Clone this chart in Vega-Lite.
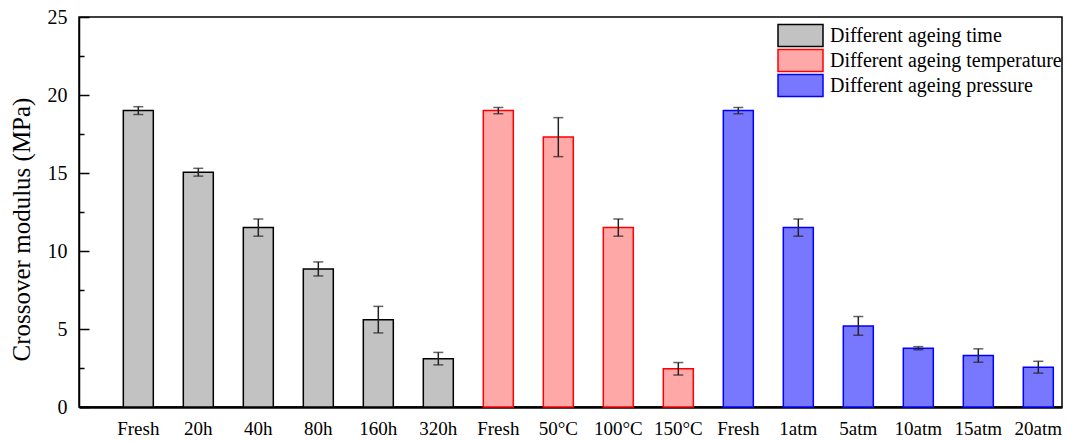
{
  "$schema": "https://vega.github.io/schema/vega-lite/v6.json",
  "width": 983,
  "height": 390,
  "autosize": {"type": "none"},
  "padding": {"left": 79, "top": 17, "right": 5, "bottom": 34},
  "config": {
    "font": "Liberation Serif",
    "view": {"stroke": "black", "strokeWidth": 1.5},
    "axis": {"labelFont": "Liberation Serif", "titleFont": "Liberation Serif"},
    "legend": {"labelFont": "Liberation Serif"}
  },
  "data": {
    "values": [
      {"key": "Fresh|1", "group": "Different ageing time", "value": 19.0, "lo": 18.75, "hi": 19.25},
      {"key": "20h|2", "group": "Different ageing time", "value": 15.05, "lo": 14.8, "hi": 15.3},
      {"key": "40h|3", "group": "Different ageing time", "value": 11.5, "lo": 10.95, "hi": 12.05},
      {"key": "80h|4", "group": "Different ageing time", "value": 8.85, "lo": 8.4, "hi": 9.3},
      {"key": "160h|5", "group": "Different ageing time", "value": 5.6, "lo": 4.75, "hi": 6.45},
      {"key": "320h|6", "group": "Different ageing time", "value": 3.1, "lo": 2.7, "hi": 3.5},
      {"key": "Fresh|7", "group": "Different ageing temperature", "value": 19.0, "lo": 18.8, "hi": 19.2},
      {"key": "50°C|8", "group": "Different ageing temperature", "value": 17.3, "lo": 16.05, "hi": 18.55},
      {"key": "100°C|9", "group": "Different ageing temperature", "value": 11.5, "lo": 10.95, "hi": 12.05},
      {"key": "150°C|10", "group": "Different ageing temperature", "value": 2.45, "lo": 2.05, "hi": 2.85},
      {"key": "Fresh|11", "group": "Different ageing pressure", "value": 19.0, "lo": 18.8, "hi": 19.2},
      {"key": "1atm|12", "group": "Different ageing pressure", "value": 11.5, "lo": 10.95, "hi": 12.05},
      {"key": "5atm|13", "group": "Different ageing pressure", "value": 5.2, "lo": 4.6, "hi": 5.8},
      {"key": "10atm|14", "group": "Different ageing pressure", "value": 3.77, "lo": 3.67, "hi": 3.87},
      {"key": "15atm|15", "group": "Different ageing pressure", "value": 3.3, "lo": 2.87, "hi": 3.73},
      {"key": "20atm|16", "group": "Different ageing pressure", "value": 2.55, "lo": 2.17, "hi": 2.93}
    ]
  },
  "encoding": {
    "x": {
      "field": "key",
      "type": "nominal",
      "sort": null,
      "scale": {"paddingInner": 0.5, "paddingOuter": 0.4417, "align": 0.836},
      "axis": {
        "title": null,
        "labelExpr": "split(datum.value, '|')[0]",
        "labelAngle": 0,
        "labelFont": "Liberation Serif",
        "labelFontSize": 19,
        "labelColor": "black",
        "labelPadding": 12,
        "ticks": false,
        "domainColor": "black",
        "domainWidth": 2.5,
        "grid": false
      }
    }
  },
  "layer": [
    {
      "mark": {"type": "bar", "strokeWidth": 1.5},
      "encoding": {
        "y": {
          "field": "value",
          "type": "quantitative",
          "scale": {"domain": [0, 25], "nice": false, "zero": true},
          "axis": {
            "values": [0, 5, 10, 15, 20, 25],
            "tickSize": -10,
            "tickWidth": 1.5,
            "tickColor": "black",
            "domainColor": "black",
            "domainWidth": 1.5,
            "labelFont": "Liberation Serif",
            "labelFontSize": 20,
            "labelColor": "black",
            "labelPadding": 22,
            "grid": false,
            "title": "Crossover modulus (MPa)",
            "titleFont": "Liberation Serif",
            "titleFontSize": 25,
            "titleFontWeight": "normal",
            "titleColor": "black",
            "titleBaseline": "bottom",
            "titleX": -45,
            "titleY": 212
          }
        },
        "fill": {
          "field": "group",
          "type": "nominal",
          "scale": {
            "domain": ["Different ageing time", "Different ageing temperature", "Different ageing pressure"],
            "range": ["#c2c2c2", "#ffa8a8", "#7878ff"]
          },
          "legend": {
            "orient": "none",
            "legendX": 698,
            "legendY": 6,
            "title": null,
            "padding": 0,
            "symbolType": "M-1,-0.49H1V0.49H-1Z",
            "symbolSize": 2025,
            "symbolStrokeWidth": 1.5,
            "symbolOpacity": 1,
            "labelFont": "Liberation Serif",
            "labelFontSize": 20,
            "labelColor": "black",
            "labelOffset": 6,
            "labelLimit": 400,
            "clipHeight": 25,
            "rowPadding": 0,
            "encode": {
              "symbols": {"update": {"stroke": {"scale": "stroke", "field": "value"}, "strokeWidth": {"value": 1.5}}}
            }
          }
        },
        "stroke": {
          "field": "group",
          "type": "nominal",
          "scale": {
            "domain": ["Different ageing time", "Different ageing temperature", "Different ageing pressure"],
            "range": ["#000000", "#ff0000", "#0000ff"]
          },
          "legend": null
        }
      }
    },
    {
      "mark": {"type": "rule", "color": "#222222", "strokeWidth": 1.5},
      "encoding": {
        "y": {
          "field": "lo",
          "type": "quantitative",
          "axis": {
            "orient": "left",
            "values": [2.5, 7.5, 12.5, 17.5, 22.5],
            "tickSize": -5,
            "tickWidth": 1.5,
            "tickColor": "black",
            "labels": false,
            "domain": false,
            "grid": false,
            "title": null
          }
        },
        "y2": {"field": "hi"}
      }
    },
    {
      "mark": {"type": "tick", "color": "#222222", "thickness": 1.5, "size": 10},
      "encoding": {"y": {"field": "lo", "type": "quantitative", "axis": null}}
    },
    {
      "mark": {"type": "tick", "color": "#222222", "thickness": 1.5, "size": 10},
      "encoding": {"y": {"field": "hi", "type": "quantitative", "axis": null}}
    }
  ],
  "resolve": {"axis": {"y": "independent"}}
}
